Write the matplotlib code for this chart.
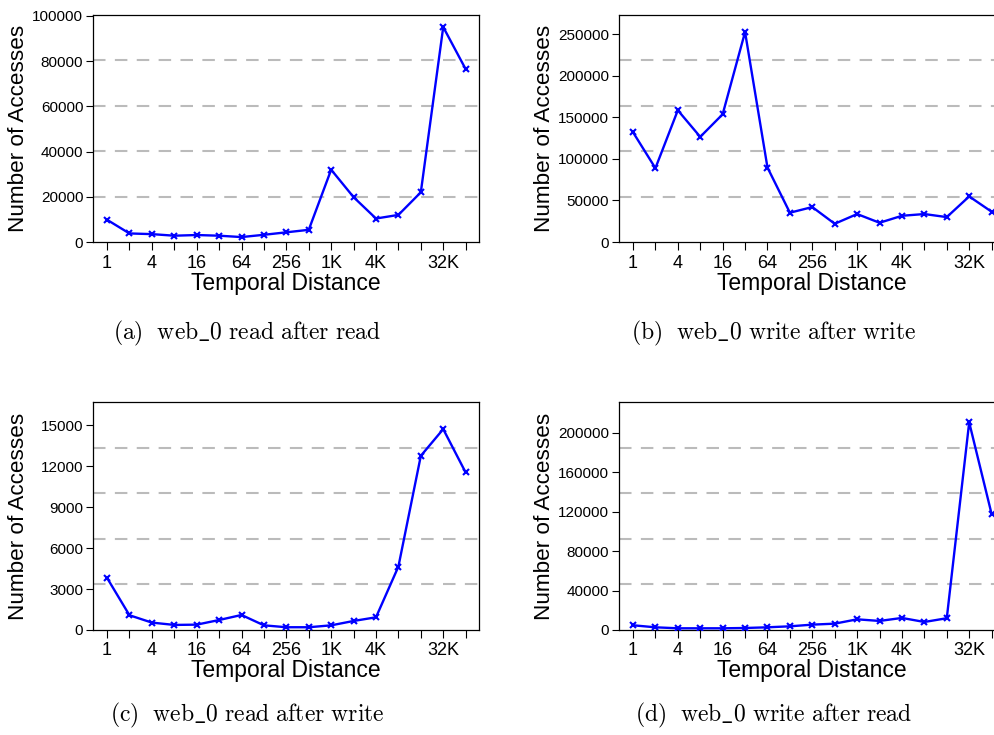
import numpy as np
import matplotlib
matplotlib.use('Agg')
import matplotlib.pyplot as plt

# Temporal distance buckets: 1, 2, 4, ..., 64K
x_labels = ['1', '', '4', '', '16', '', '64', '', '256', '', '1K', '', '4K', '', '', '32K', '']

# Number of accesses for each panel
read_after_read = [9850, 3800, 3500, 2800, 3100, 2800, 2200, 3200, 4300, 5400,
                   32000, 19850, 10400, 12000, 22000, 95100, 76500]
write_after_write = [132200, 88900, 158600, 126600, 153800, 252800, 89700, 35300, 42100,
                     22000, 33700, 23200, 31600, 33700, 30000, 54900, 36500]
read_after_write = [3820, 1080, 540, 370, 390, 730, 1100, 340, 200, 200,
                    340, 660, 930, 4650, 12770, 14730, 11550]
write_after_read = [4750, 2700, 1700, 1700, 1700, 2000, 2700, 3700, 5400, 6400,
                    10800, 9150, 12200, 8100, 11900, 210500, 117600]

captions = ['$\\mathrm{(a)\\ \\ web\\_0\\ read\\ after\\ read}$',
            '$\\mathrm{(b)\\ \\ web\\_0\\ write\\ after\\ write}$',
            '$\\mathrm{(c)\\ \\ web\\_0\\ read\\ after\\ write}$',
            '$\\mathrm{(d)\\ \\ web\\_0\\ write\\ after\\ read}$']
y_ticks = [np.arange(0, 100001, 20000), np.arange(0, 250001, 50000),
           np.arange(0, 15001, 3000), np.arange(0, 200001, 40000)]
y_tops = [100400, 273200, 16720, 231200]

plt.rcParams['font.family'] = ['Liberation Sans', 'DejaVu Sans']
plt.rcParams['mathtext.fontset'] = 'cm'

fig = plt.figure(figsize=(9.95, 7.35), dpi=100)

# axes boxes in figure fraction (right column runs past the edge like the original)
boxes = [[0.0935, 0.6707, 0.388, 0.3088],
         [0.6221, 0.6707, 0.388, 0.3088],
         [0.0935, 0.1429, 0.388, 0.3102],
         [0.6221, 0.1429, 0.388, 0.3102]]
caption_pos = [(0.248, 0.546), (0.777, 0.546), (0.248, 0.026), (0.777, 0.026)]

series = [read_after_read, write_after_write, read_after_write, write_after_read]
x = np.arange(len(x_labels))

for i in range(4):
    ax = fig.add_axes(boxes[i])
    top = y_tops[i]
    for g in np.linspace(0, top, 6)[1:-1]:
        ax.axhline(g, color='#bbbbbb', lw=1.5, ls=(0, (6, 4.5)), zorder=1)
    ax.plot(x, series[i], color='#0000ff', lw=1.7, marker='x', ms=5, mew=1.5, zorder=3)

    ax.set_xlim(-0.625, 16.6)
    ax.set_ylim(0, top)
    ax.set_xticks(x)
    ax.set_xticklabels(x_labels, fontsize=13)
    ax.set_yticks(y_ticks[i])
    ax.tick_params(axis='y', labelsize=11, length=5, width=0.8, pad=2)
    ax.tick_params(axis='x', length=6, width=0.8, pad=3)
    for s in ax.spines.values():
        s.set_linewidth(0.9)

    ax.set_xlabel('Temporal Distance', fontsize=16.5, labelpad=0)
    ax.set_ylabel('Number of Accesses', fontsize=16.2)
    ax.yaxis.set_label_coords(-0.165, 0.5)

    fig.text(caption_pos[i][0], caption_pos[i][1], captions[i], fontsize=17,
             ha='center', va='center')

fig.savefig('out.png', dpi=100)
